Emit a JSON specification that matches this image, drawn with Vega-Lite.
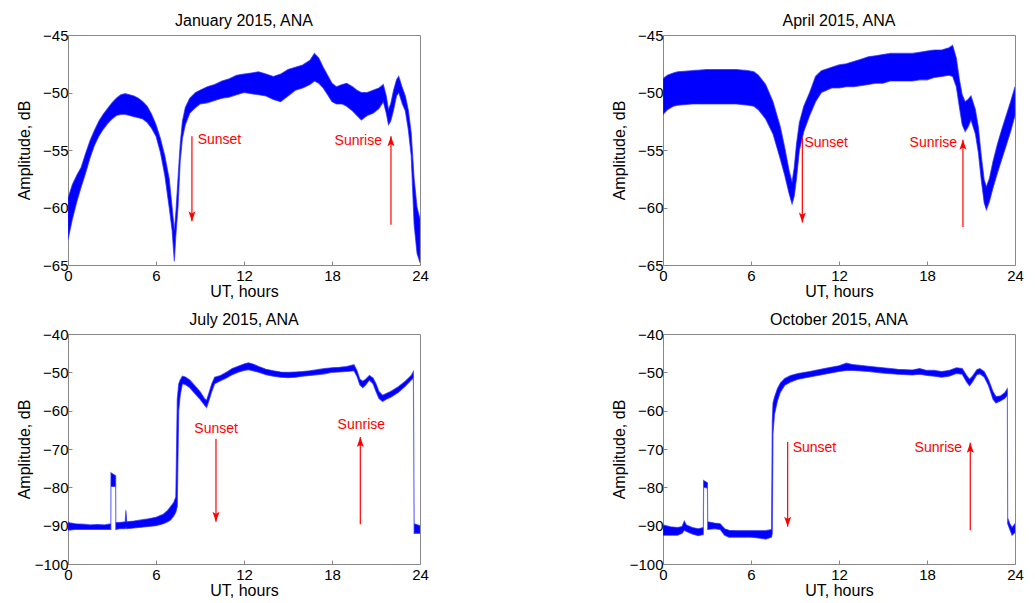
{
"$schema": "https://vega.github.io/schema/vega-lite/v6.json",
"background": "white",
"padding": {"left": 15, "top": 12, "right": 5, "bottom": 5},
"config": {
  "font": "Liberation Sans",
  "view": {"stroke": "#888888", "strokeWidth": 1},
  "axis": {"domain": false, "grid": false, "tickColor": "#888888", "tickSize": -4, "tickWidth": 1, "tickCount": 20, "labelFontSize": 15, "labelColor": "#000000", "labelFont": "Liberation Sans", "labelFlush": false, "labelOverlap": false, "labelBound": false, "titleFontSize": 16, "titleFontWeight": "normal", "titleColor": "#000000", "titleFont": "Liberation Sans"},
  "axisX": {"labelPadding": 7, "titleX": 176, "titleY": 31.5, "titleBaseline": "alphabetic", "titleAlign": "center"},
  "axisY": {"labelPadding": 4, "titleX": -39, "titleY": 115, "titleAngle": -90, "titleBaseline": "alphabetic", "titleAlign": "center"},
  "title": {"fontSize": 16, "fontWeight": "normal", "font": "Liberation Sans", "color": "#000000", "baseline": "alphabetic", "offset": -1, "anchor": "middle", "frame": "group"}
},
"datasets": {
  "jan": [
    {"h":0,"hi":-59.2,"lo":-62.8},{"h":0.3,"hi":-58.0,"lo":-61.0},{"h":0.6,"hi":-57.2,"lo":-59.5},{"h":0.9,"hi":-56.5,"lo":-58.2},{"h":1.2,"hi":-55.3,"lo":-57.0},{"h":1.5,"hi":-54.2,"lo":-55.7},{"h":1.8,"hi":-53.3,"lo":-54.6},{"h":2.1,"hi":-52.5,"lo":-53.8},{"h":2.4,"hi":-51.9,"lo":-53.2},{"h":2.7,"hi":-51.4,"lo":-52.7},{"h":3.0,"hi":-50.9,"lo":-52.3},{"h":3.3,"hi":-50.5,"lo":-52.0},{"h":3.6,"hi":-50.2,"lo":-51.9},{"h":3.9,"hi":-50.1,"lo":-51.9},{"h":4.2,"hi":-50.2,"lo":-52.0},{"h":4.5,"hi":-50.3,"lo":-52.1},{"h":4.8,"hi":-50.5,"lo":-52.2},{"h":5.1,"hi":-50.8,"lo":-52.3},{"h":5.4,"hi":-51.2,"lo":-52.6},{"h":5.7,"hi":-51.9,"lo":-53.1},{"h":6.0,"hi":-52.8,"lo":-53.8},{"h":6.3,"hi":-54.0,"lo":-55.2},{"h":6.6,"hi":-55.5,"lo":-57.2},{"h":6.9,"hi":-57.5,"lo":-60.0},{"h":7.1,"hi":-60.0,"lo":-62.0},{"h":7.25,"hi":-62.0,"lo":-64.7},{"h":7.35,"hi":-60.5,"lo":-62.5},{"h":7.5,"hi":-57.5,"lo":-60.0},{"h":7.65,"hi":-54.5,"lo":-56.0},{"h":7.8,"hi":-52.5,"lo":-54.0},{"h":8.0,"hi":-51.3,"lo":-52.8},{"h":8.3,"hi":-50.5,"lo":-51.8},{"h":8.7,"hi":-50.0,"lo":-51.3},{"h":9.0,"hi":-49.8,"lo":-51.0},{"h":9.5,"hi":-49.5,"lo":-50.9},{"h":10.0,"hi":-49.3,"lo":-50.7},{"h":10.5,"hi":-49.0,"lo":-50.5},{"h":11.0,"hi":-48.8,"lo":-50.4},{"h":11.5,"hi":-48.5,"lo":-50.2},{"h":12.0,"hi":-48.4,"lo":-50.0},{"h":12.5,"hi":-48.3,"lo":-50.1},{"h":13.0,"hi":-48.2,"lo":-50.2},{"h":13.5,"hi":-48.4,"lo":-50.3},{"h":14.0,"hi":-48.6,"lo":-50.6},{"h":14.5,"hi":-48.4,"lo":-50.8},{"h":15.0,"hi":-48.0,"lo":-50.3},{"h":15.5,"hi":-47.8,"lo":-49.8},{"h":16.0,"hi":-47.6,"lo":-49.6},{"h":16.5,"hi":-47.2,"lo":-49.3},{"h":16.8,"hi":-46.6,"lo":-49.0},{"h":17.1,"hi":-47.0,"lo":-49.2},{"h":17.4,"hi":-47.8,"lo":-49.6},{"h":17.7,"hi":-48.5,"lo":-50.2},{"h":18.0,"hi":-49.2,"lo":-50.8},{"h":18.3,"hi":-49.5,"lo":-51.0},{"h":18.7,"hi":-49.3,"lo":-51.0},{"h":19.0,"hi":-49.2,"lo":-51.2},{"h":19.4,"hi":-49.5,"lo":-51.6},{"h":19.7,"hi":-49.8,"lo":-52.0},{"h":20.0,"hi":-50.0,"lo":-52.4},{"h":20.4,"hi":-50.0,"lo":-52.0},{"h":20.8,"hi":-49.8,"lo":-51.8},{"h":21.2,"hi":-49.6,"lo":-51.4},{"h":21.5,"hi":-49.3,"lo":-50.8},{"h":21.7,"hi":-50.3,"lo":-51.8},{"h":21.85,"hi":-51.5,"lo":-52.8},{"h":22.0,"hi":-51.0,"lo":-52.5},{"h":22.2,"hi":-49.8,"lo":-51.5},{"h":22.4,"hi":-48.9,"lo":-50.3},{"h":22.55,"hi":-48.6,"lo":-50.0},{"h":22.8,"hi":-49.6,"lo":-51.0},{"h":23.0,"hi":-50.3,"lo":-51.6},{"h":23.2,"hi":-51.5,"lo":-53.2},{"h":23.4,"hi":-53.5,"lo":-55.5},{"h":23.6,"hi":-57.5,"lo":-61.5},{"h":23.8,"hi":-60.0,"lo":-64.0},{"h":24.0,"hi":-61.0,"lo":-64.8}
  ],
  "apr": [
    {"h":0,"hi":-48.8,"lo":-51.9},{"h":0.3,"hi":-48.5,"lo":-51.5},{"h":0.7,"hi":-48.3,"lo":-51.2},{"h":1.0,"hi":-48.2,"lo":-51.1},{"h":2.0,"hi":-48.1,"lo":-51.0},{"h":3.0,"hi":-48.0,"lo":-51.0},{"h":4.0,"hi":-48.0,"lo":-51.0},{"h":5.0,"hi":-48.0,"lo":-51.0},{"h":5.8,"hi":-48.1,"lo":-51.1},{"h":6.2,"hi":-48.2,"lo":-51.2},{"h":6.5,"hi":-48.5,"lo":-51.5},{"h":7.0,"hi":-49.3,"lo":-52.3},{"h":7.5,"hi":-50.8,"lo":-53.6},{"h":8.0,"hi":-53.0,"lo":-55.8},{"h":8.3,"hi":-54.8,"lo":-57.2},{"h":8.6,"hi":-56.8,"lo":-58.8},{"h":8.8,"hi":-57.8,"lo":-59.7},{"h":8.95,"hi":-56.5,"lo":-59.0},{"h":9.1,"hi":-54.5,"lo":-57.5},{"h":9.3,"hi":-52.6,"lo":-55.0},{"h":9.6,"hi":-51.2,"lo":-53.4},{"h":10.0,"hi":-50.0,"lo":-52.0},{"h":10.4,"hi":-48.6,"lo":-50.8},{"h":10.8,"hi":-48.1,"lo":-50.0},{"h":11.5,"hi":-47.8,"lo":-49.6},{"h":12.0,"hi":-47.6,"lo":-49.6},{"h":12.5,"hi":-47.5,"lo":-49.5},{"h":13.0,"hi":-47.3,"lo":-49.5},{"h":13.5,"hi":-47.1,"lo":-49.4},{"h":14.0,"hi":-46.9,"lo":-49.3},{"h":14.5,"hi":-46.8,"lo":-49.2},{"h":15.0,"hi":-46.7,"lo":-49.2},{"h":15.5,"hi":-46.6,"lo":-49.0},{"h":16.0,"hi":-46.6,"lo":-49.0},{"h":16.5,"hi":-46.6,"lo":-49.0},{"h":17.0,"hi":-46.6,"lo":-49.0},{"h":17.5,"hi":-46.5,"lo":-48.9},{"h":18.0,"hi":-46.4,"lo":-48.9},{"h":18.5,"hi":-46.3,"lo":-48.7},{"h":19.0,"hi":-46.3,"lo":-48.6},{"h":19.5,"hi":-46.1,"lo":-48.5},{"h":19.75,"hi":-45.9,"lo":-48.6},{"h":20.0,"hi":-47.0,"lo":-49.5},{"h":20.2,"hi":-48.8,"lo":-51.2},{"h":20.4,"hi":-50.2,"lo":-52.8},{"h":20.6,"hi":-50.8,"lo":-53.4},{"h":20.8,"hi":-50.6,"lo":-53.0},{"h":21.0,"hi":-50.3,"lo":-52.4},{"h":21.3,"hi":-51.5,"lo":-53.6},{"h":21.5,"hi":-53.0,"lo":-55.2},{"h":21.7,"hi":-55.5,"lo":-57.6},{"h":21.9,"hi":-57.6,"lo":-59.6},{"h":22.05,"hi":-58.2,"lo":-60.2},{"h":22.25,"hi":-57.5,"lo":-59.5},{"h":22.5,"hi":-56.0,"lo":-58.3},{"h":22.8,"hi":-54.5,"lo":-57.0},{"h":23.1,"hi":-53.2,"lo":-55.8},{"h":23.4,"hi":-52.0,"lo":-54.6},{"h":23.7,"hi":-50.8,"lo":-53.4},{"h":24.0,"hi":-49.5,"lo":-52.0}
  ],
  "jul": [
    {"h":0,"hi":-89.2,"lo":-91.2},{"h":0.5,"hi":-89.5,"lo":-91.0},{"h":1.0,"hi":-89.6,"lo":-91.0},{"h":1.5,"hi":-89.8,"lo":-91.0},{"h":2.0,"hi":-89.7,"lo":-91.0},{"h":2.5,"hi":-89.8,"lo":-91.0},{"h":2.92,"hi":-89.5,"lo":-91.0},{"h":2.93,"hi":-76.2,"lo":-79.8},{"h":3.25,"hi":-77.0,"lo":-79.8},{"h":3.26,"hi":-89.2,"lo":-91.0},{"h":3.5,"hi":-89.2,"lo":-90.8},{"h":3.9,"hi":-89.0,"lo":-90.8},{"h":3.95,"hi":-86.0,"lo":-90.5},{"h":4.0,"hi":-89.0,"lo":-90.8},{"h":4.5,"hi":-88.8,"lo":-90.6},{"h":5.0,"hi":-88.5,"lo":-90.4},{"h":5.5,"hi":-88.2,"lo":-90.2},{"h":6.0,"hi":-87.8,"lo":-90.0},{"h":6.5,"hi":-87.0,"lo":-89.5},{"h":6.8,"hi":-86.0,"lo":-89.0},{"h":7.0,"hi":-85.0,"lo":-88.5},{"h":7.2,"hi":-84.0,"lo":-87.5},{"h":7.35,"hi":-82.5,"lo":-86.5},{"h":7.45,"hi":-57.0,"lo":-85.0},{"h":7.55,"hi":-53.0,"lo":-60.0},{"h":7.65,"hi":-52.0,"lo":-56.0},{"h":7.8,"hi":-51.0,"lo":-53.0},{"h":8.0,"hi":-51.2,"lo":-53.2},{"h":8.3,"hi":-52.0,"lo":-54.0},{"h":8.6,"hi":-53.3,"lo":-55.3},{"h":9.0,"hi":-55.0,"lo":-57.0},{"h":9.3,"hi":-56.8,"lo":-58.5},{"h":9.45,"hi":-57.3,"lo":-59.2},{"h":9.6,"hi":-55.5,"lo":-57.5},{"h":9.8,"hi":-53.0,"lo":-55.0},{"h":10.0,"hi":-51.3,"lo":-53.0},{"h":10.4,"hi":-50.8,"lo":-52.2},{"h":10.8,"hi":-50.0,"lo":-51.5},{"h":11.2,"hi":-49.0,"lo":-50.6},{"h":11.6,"hi":-48.4,"lo":-50.0},{"h":12.0,"hi":-47.8,"lo":-49.5},{"h":12.3,"hi":-47.5,"lo":-49.3},{"h":12.6,"hi":-47.8,"lo":-49.6},{"h":13.0,"hi":-48.5,"lo":-50.0},{"h":13.5,"hi":-49.2,"lo":-50.6},{"h":14.0,"hi":-49.6,"lo":-51.0},{"h":14.5,"hi":-49.9,"lo":-51.3},{"h":15.0,"hi":-50.0,"lo":-51.4},{"h":15.5,"hi":-49.9,"lo":-51.3},{"h":16.0,"hi":-49.8,"lo":-51.0},{"h":16.5,"hi":-49.6,"lo":-50.8},{"h":17.0,"hi":-49.3,"lo":-50.6},{"h":17.5,"hi":-49.0,"lo":-50.4},{"h":18.0,"hi":-48.8,"lo":-50.0},{"h":18.5,"hi":-48.7,"lo":-49.9},{"h":19.0,"hi":-48.5,"lo":-49.8},{"h":19.5,"hi":-48.0,"lo":-49.6},{"h":19.7,"hi":-49.5,"lo":-51.0},{"h":19.9,"hi":-51.8,"lo":-53.3},{"h":20.1,"hi":-52.3,"lo":-54.0},{"h":20.3,"hi":-51.8,"lo":-53.3},{"h":20.55,"hi":-50.8,"lo":-52.0},{"h":20.8,"hi":-51.5,"lo":-53.0},{"h":21.0,"hi":-53.0,"lo":-55.0},{"h":21.2,"hi":-55.0,"lo":-56.8},{"h":21.45,"hi":-56.0,"lo":-57.6},{"h":21.7,"hi":-55.5,"lo":-57.0},{"h":22.0,"hi":-55.0,"lo":-56.5},{"h":22.5,"hi":-53.8,"lo":-55.3},{"h":23.0,"hi":-52.3,"lo":-53.6},{"h":23.4,"hi":-50.8,"lo":-52.0},{"h":23.55,"hi":-49.8,"lo":-51.5},{"h":23.6,"hi":-89.5,"lo":-92.0},{"h":24.0,"hi":-90.0,"lo":-92.0}
  ],
  "oct": [
    {"h":0,"hi":-89.8,"lo":-92.5},{"h":0.5,"hi":-90.3,"lo":-92.5},{"h":1.0,"hi":-90.5,"lo":-92.5},{"h":1.3,"hi":-90.2,"lo":-92.0},{"h":1.45,"hi":-88.8,"lo":-91.2},{"h":1.6,"hi":-89.8,"lo":-91.5},{"h":2.0,"hi":-90.5,"lo":-92.2},{"h":2.4,"hi":-90.8,"lo":-92.6},{"h":2.75,"hi":-90.5,"lo":-92.3},{"h":2.77,"hi":-78.2,"lo":-80.0},{"h":3.03,"hi":-78.8,"lo":-80.2},{"h":3.05,"hi":-89.0,"lo":-91.0},{"h":3.5,"hi":-89.3,"lo":-90.8},{"h":3.9,"hi":-89.5,"lo":-91.0},{"h":4.2,"hi":-90.8,"lo":-92.5},{"h":4.5,"hi":-91.2,"lo":-93.0},{"h":5.0,"hi":-91.3,"lo":-93.0},{"h":5.5,"hi":-91.3,"lo":-93.0},{"h":6.0,"hi":-91.3,"lo":-93.0},{"h":6.5,"hi":-91.3,"lo":-93.2},{"h":7.0,"hi":-91.3,"lo":-93.5},{"h":7.4,"hi":-91.0,"lo":-93.0},{"h":7.45,"hi":-63.0,"lo":-92.0},{"h":7.5,"hi":-58.0,"lo":-66.0},{"h":7.6,"hi":-56.5,"lo":-61.0},{"h":7.8,"hi":-54.3,"lo":-57.5},{"h":8.0,"hi":-52.8,"lo":-55.2},{"h":8.3,"hi":-51.6,"lo":-53.4},{"h":8.7,"hi":-50.8,"lo":-52.5},{"h":9.2,"hi":-50.3,"lo":-51.8},{"h":10.0,"hi":-49.8,"lo":-51.2},{"h":11.0,"hi":-49.0,"lo":-50.5},{"h":12.0,"hi":-48.3,"lo":-49.8},{"h":12.5,"hi":-47.6,"lo":-49.5},{"h":13.0,"hi":-48.0,"lo":-49.5},{"h":14.0,"hi":-48.4,"lo":-49.8},{"h":15.0,"hi":-48.8,"lo":-50.2},{"h":16.0,"hi":-49.2,"lo":-50.5},{"h":17.0,"hi":-49.4,"lo":-50.7},{"h":17.5,"hi":-49.0,"lo":-50.5},{"h":18.0,"hi":-49.5,"lo":-50.8},{"h":18.5,"hi":-49.5,"lo":-51.0},{"h":19.0,"hi":-49.8,"lo":-51.3},{"h":19.5,"hi":-49.5,"lo":-51.0},{"h":20.0,"hi":-48.8,"lo":-50.3},{"h":20.4,"hi":-49.0,"lo":-50.5},{"h":20.7,"hi":-50.8,"lo":-52.5},{"h":20.9,"hi":-51.8,"lo":-53.5},{"h":21.1,"hi":-51.0,"lo":-52.5},{"h":21.4,"hi":-49.3,"lo":-50.6},{"h":21.6,"hi":-49.0,"lo":-50.4},{"h":21.9,"hi":-49.8,"lo":-51.2},{"h":22.2,"hi":-52.0,"lo":-53.5},{"h":22.5,"hi":-55.0,"lo":-57.0},{"h":22.7,"hi":-56.3,"lo":-58.0},{"h":23.0,"hi":-56.2,"lo":-57.5},{"h":23.3,"hi":-55.3,"lo":-56.8},{"h":23.48,"hi":-54.3,"lo":-56.0},{"h":23.5,"hi":-88.0,"lo":-89.5},{"h":23.65,"hi":-89.5,"lo":-91.0},{"h":23.8,"hi":-90.5,"lo":-92.5},{"h":24.0,"hi":-89.5,"lo":-91.8}
  ],
  "arrows": [
    {"panel":"jan","h":8.45,"from":-53.8,"to":-61.2,"dir":"down"},
    {"panel":"jan","h":22.02,"from":-61.5,"to":-53.8,"dir":"up"},
    {"panel":"apr","h":9.5,"from":-53.9,"to":-61.3,"dir":"down"},
    {"panel":"apr","h":20.45,"from":-61.7,"to":-54.1,"dir":"up"},
    {"panel":"jul","h":10.09,"from":-67.3,"to":-89.0,"dir":"down"},
    {"panel":"jul","h":19.93,"from":-89.6,"to":-66.9,"dir":"up"},
    {"panel":"oct","h":8.5,"from":-68.2,"to":-90.3,"dir":"down"},
    {"panel":"oct","h":20.95,"from":-91.2,"to":-68.4,"dir":"up"}
  ],
  "labels": [
    {"panel":"jan","h":8.84,"v":-54.1,"text":"Sunset","align":"left"},
    {"panel":"jan","h":21.41,"v":-54.2,"text":"Sunrise","align":"right"},
    {"panel":"apr","h":9.64,"v":-54.4,"text":"Sunset","align":"left"},
    {"panel":"apr","h":20.05,"v":-54.4,"text":"Sunrise","align":"right"},
    {"panel":"jul","h":10.1,"v":-64.9,"text":"Sunset","align":"center"},
    {"panel":"jul","h":20.0,"v":-63.7,"text":"Sunrise","align":"center"},
    {"panel":"oct","h":8.84,"v":-69.7,"text":"Sunset","align":"left"},
    {"panel":"oct","h":20.39,"v":-69.7,"text":"Sunrise","align":"right"}
  ]
},
"columns": 2,
"spacing": {"row": 69, "column": 243},
"bounds": "flush",
"concat": [
  {
    "width": 352, "height": 230,
    "title": {"text": "January 2015, ANA"},
    "layer": [
      {"data": {"name": "jan"}, "mark": {"type": "area", "fill": "#0000ff", "stroke": "#2a2aff", "strokeWidth": 1.1, "strokeOpacity": 0.7, "clip": true},
       "encoding": {
         "x": {"field": "h", "type": "quantitative", "scale": {"domain": [0, 24], "nice": false, "zero": false}, "axis": {"values": [0, 6, 12, 18, 24], "title": "UT, hours", "labelOverlap": false}},
         "y": {"field": "hi", "type": "quantitative", "scale": {"domain": [-65, -45], "nice": false, "zero": false}, "axis": {"values": [-65, -60, -55, -50, -45], "title": "Amplitude, dB", "labelOverlap": false, "tickCount": 20}},
         "y2": {"field": "lo"}}},
      {"data": {"name": "arrows"}, "transform": [{"filter": "datum.panel == 'jan'"}], "mark": {"type": "rule", "color": "#ff0000", "strokeWidth": 1.2},
       "encoding": {"x": {"field": "h", "type": "quantitative"}, "y": {"field": "from", "type": "quantitative"}, "y2": {"field": "to"}}},
      {"data": {"name": "arrows"}, "transform": [{"filter": "datum.panel == 'jan'"}], "mark": {"type": "point", "filled": true, "color": "#ff0000", "opacity": 1, "size": 400, "strokeWidth": 0},
       "encoding": {"x": {"field": "h", "type": "quantitative"}, "y": {"field": "to", "type": "quantitative"},
         "shape": {"field": "dir", "type": "nominal", "scale": {"domain": ["down", "up"], "range": ["M0,0L-0.35,-1L0,-0.78L0.35,-1Z", "M0,0L-0.35,1L0,0.78L0.35,1Z"]}, "legend": null}}},
      {"data": {"name": "labels"}, "transform": [{"filter": "datum.panel == 'jan' && datum.align == 'left'"}], "mark": {"type": "text", "align": "left", "baseline": "middle", "color": "#ff0000", "fontSize": 14},
       "encoding": {"x": {"field": "h", "type": "quantitative"}, "y": {"field": "v", "type": "quantitative"}, "text": {"field": "text"}}},
      {"data": {"name": "labels"}, "transform": [{"filter": "datum.panel == 'jan' && datum.align == 'right'"}], "mark": {"type": "text", "align": "right", "baseline": "middle", "color": "#ff0000", "fontSize": 14},
       "encoding": {"x": {"field": "h", "type": "quantitative"}, "y": {"field": "v", "type": "quantitative"}, "text": {"field": "text"}}}
    ]
  },
  {
    "width": 352, "height": 230,
    "title": {"text": "April 2015, ANA"},
    "layer": [
      {"data": {"name": "apr"}, "mark": {"type": "area", "fill": "#0000ff", "stroke": "#2a2aff", "strokeWidth": 1.1, "strokeOpacity": 0.7, "clip": true},
       "encoding": {
         "x": {"field": "h", "type": "quantitative", "scale": {"domain": [0, 24], "nice": false, "zero": false}, "axis": {"values": [0, 6, 12, 18, 24], "title": "UT, hours", "labelOverlap": false}},
         "y": {"field": "hi", "type": "quantitative", "scale": {"domain": [-65, -45], "nice": false, "zero": false}, "axis": {"values": [-65, -60, -55, -50, -45], "title": "Amplitude, dB", "labelOverlap": false, "tickCount": 20}},
         "y2": {"field": "lo"}}},
      {"data": {"name": "arrows"}, "transform": [{"filter": "datum.panel == 'apr'"}], "mark": {"type": "rule", "color": "#ff0000", "strokeWidth": 1.2},
       "encoding": {"x": {"field": "h", "type": "quantitative"}, "y": {"field": "from", "type": "quantitative"}, "y2": {"field": "to"}}},
      {"data": {"name": "arrows"}, "transform": [{"filter": "datum.panel == 'apr'"}], "mark": {"type": "point", "filled": true, "color": "#ff0000", "opacity": 1, "size": 400, "strokeWidth": 0},
       "encoding": {"x": {"field": "h", "type": "quantitative"}, "y": {"field": "to", "type": "quantitative"},
         "shape": {"field": "dir", "type": "nominal", "scale": {"domain": ["down", "up"], "range": ["M0,0L-0.35,-1L0,-0.78L0.35,-1Z", "M0,0L-0.35,1L0,0.78L0.35,1Z"]}, "legend": null}}},
      {"data": {"name": "labels"}, "transform": [{"filter": "datum.panel == 'apr' && datum.align == 'left'"}], "mark": {"type": "text", "align": "left", "baseline": "middle", "color": "#ff0000", "fontSize": 14},
       "encoding": {"x": {"field": "h", "type": "quantitative"}, "y": {"field": "v", "type": "quantitative"}, "text": {"field": "text"}}},
      {"data": {"name": "labels"}, "transform": [{"filter": "datum.panel == 'apr' && datum.align == 'right'"}], "mark": {"type": "text", "align": "right", "baseline": "middle", "color": "#ff0000", "fontSize": 14},
       "encoding": {"x": {"field": "h", "type": "quantitative"}, "y": {"field": "v", "type": "quantitative"}, "text": {"field": "text"}}}
    ]
  },
  {
    "width": 352, "height": 230,
    "title": {"text": "July 2015, ANA"},
    "layer": [
      {"data": {"name": "jul"}, "mark": {"type": "area", "fill": "#0000ff", "stroke": "#2a2aff", "strokeWidth": 1.1, "strokeOpacity": 0.7, "clip": true},
       "encoding": {
         "x": {"field": "h", "type": "quantitative", "scale": {"domain": [0, 24], "nice": false, "zero": false}, "axis": {"values": [0, 6, 12, 18, 24], "title": "UT, hours", "labelOverlap": false}},
         "y": {"field": "hi", "type": "quantitative", "scale": {"domain": [-100, -40], "nice": false, "zero": false}, "axis": {"values": [-100, -90, -80, -70, -60, -50, -40], "title": "Amplitude, dB", "labelOverlap": false, "tickCount": 20}},
         "y2": {"field": "lo"}}},
      {"data": {"name": "arrows"}, "transform": [{"filter": "datum.panel == 'jul'"}], "mark": {"type": "rule", "color": "#ff0000", "strokeWidth": 1.2},
       "encoding": {"x": {"field": "h", "type": "quantitative"}, "y": {"field": "from", "type": "quantitative"}, "y2": {"field": "to"}}},
      {"data": {"name": "arrows"}, "transform": [{"filter": "datum.panel == 'jul'"}], "mark": {"type": "point", "filled": true, "color": "#ff0000", "opacity": 1, "size": 400, "strokeWidth": 0},
       "encoding": {"x": {"field": "h", "type": "quantitative"}, "y": {"field": "to", "type": "quantitative"},
         "shape": {"field": "dir", "type": "nominal", "scale": {"domain": ["down", "up"], "range": ["M0,0L-0.35,-1L0,-0.78L0.35,-1Z", "M0,0L-0.35,1L0,0.78L0.35,1Z"]}, "legend": null}}},
      {"data": {"name": "labels"}, "transform": [{"filter": "datum.panel == 'jul'"}], "mark": {"type": "text", "align": "center", "baseline": "middle", "color": "#ff0000", "fontSize": 14},
       "encoding": {"x": {"field": "h", "type": "quantitative"}, "y": {"field": "v", "type": "quantitative"}, "text": {"field": "text"}}}
    ]
  },
  {
    "width": 352, "height": 230,
    "title": {"text": "October 2015, ANA"},
    "layer": [
      {"data": {"name": "oct"}, "mark": {"type": "area", "fill": "#0000ff", "stroke": "#2a2aff", "strokeWidth": 1.1, "strokeOpacity": 0.7, "clip": true},
       "encoding": {
         "x": {"field": "h", "type": "quantitative", "scale": {"domain": [0, 24], "nice": false, "zero": false}, "axis": {"values": [0, 6, 12, 18, 24], "title": "UT, hours", "labelOverlap": false}},
         "y": {"field": "hi", "type": "quantitative", "scale": {"domain": [-100, -40], "nice": false, "zero": false}, "axis": {"values": [-100, -90, -80, -70, -60, -50, -40], "title": "Amplitude, dB", "labelOverlap": false, "tickCount": 20}},
         "y2": {"field": "lo"}}},
      {"data": {"name": "arrows"}, "transform": [{"filter": "datum.panel == 'oct'"}], "mark": {"type": "rule", "color": "#ff0000", "strokeWidth": 1.2},
       "encoding": {"x": {"field": "h", "type": "quantitative"}, "y": {"field": "from", "type": "quantitative"}, "y2": {"field": "to"}}},
      {"data": {"name": "arrows"}, "transform": [{"filter": "datum.panel == 'oct'"}], "mark": {"type": "point", "filled": true, "color": "#ff0000", "opacity": 1, "size": 400, "strokeWidth": 0},
       "encoding": {"x": {"field": "h", "type": "quantitative"}, "y": {"field": "to", "type": "quantitative"},
         "shape": {"field": "dir", "type": "nominal", "scale": {"domain": ["down", "up"], "range": ["M0,0L-0.35,-1L0,-0.78L0.35,-1Z", "M0,0L-0.35,1L0,0.78L0.35,1Z"]}, "legend": null}}},
      {"data": {"name": "labels"}, "transform": [{"filter": "datum.panel == 'oct' && datum.align == 'left'"}], "mark": {"type": "text", "align": "left", "baseline": "middle", "color": "#ff0000", "fontSize": 14},
       "encoding": {"x": {"field": "h", "type": "quantitative"}, "y": {"field": "v", "type": "quantitative"}, "text": {"field": "text"}}},
      {"data": {"name": "labels"}, "transform": [{"filter": "datum.panel == 'oct' && datum.align == 'right'"}], "mark": {"type": "text", "align": "right", "baseline": "middle", "color": "#ff0000", "fontSize": 14},
       "encoding": {"x": {"field": "h", "type": "quantitative"}, "y": {"field": "v", "type": "quantitative"}, "text": {"field": "text"}}}
    ]
  }
]
}
